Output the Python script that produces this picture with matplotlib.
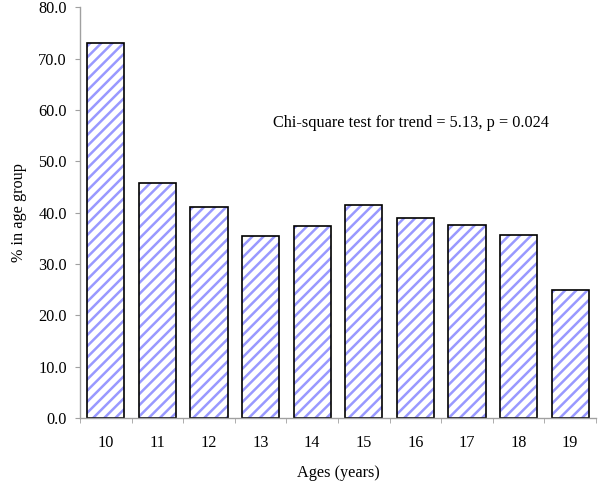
import matplotlib
matplotlib.use("Agg")
import matplotlib.pyplot as plt
import numpy as np

ages = ["10", "11", "12", "13", "14", "15", "16", "17", "18", "19"]
percent = [73.0, 45.7, 41.1, 35.5, 37.4, 41.4, 38.9, 37.5, 35.7, 25.0]
yticks = [0, 10, 20, 30, 40, 50, 60, 70, 80]
annotation = "Chi-square test for trend = 5.13, p = 0.024"

plt.rcParams['font.family'] = ['Liberation Serif', 'DejaVu Serif']
plt.rcParams['hatch.linewidth'] = 1.8

FS = 11.7

fig = plt.figure(figsize=(6.0, 4.87), dpi=100)
ax = fig.add_axes([80/600, 1 - 418/487, 516/600, (418 - 7.3)/487])

x = np.arange(len(ages))
ax.bar(x, percent, width=0.72, facecolor='white', edgecolor='#9999ff',
       hatch='///', linewidth=0)
ax.bar(x, percent, width=0.72, facecolor='none', edgecolor='black',
       linewidth=1.2)

ax.set_xlim(-0.5, len(ages) - 0.5)
ax.set_ylim(0, 80)
ax.set_yticks(yticks)
ax.set_yticklabels([f"{v:.1f}" for v in yticks])
ax.set_xticks(x)
ax.set_xticklabels(ages)
ax.set_xticks(np.arange(len(ages) + 1) - 0.5, minor=True)

for s in ['top', 'right']:
    ax.spines[s].set_visible(False)
for s in ['left', 'bottom']:
    ax.spines[s].set_color('#a0a0a0')
    ax.spines[s].set_linewidth(1.0)

ax.tick_params(axis='y', direction='out', length=3.5, color='#a0a0a0',
               labelsize=FS, pad=6)
ax.tick_params(axis='x', which='major', length=0, labelsize=FS, pad=12)
ax.tick_params(axis='x', which='minor', direction='out', length=3.5,
               color='#a0a0a0')

ax.set_ylabel("% in age group", fontsize=FS, labelpad=8)
ax.set_xlabel("Ages (years)", fontsize=FS, labelpad=10)

ax.text(273/600, 1 - 123/487, annotation, transform=fig.transFigure,
        fontsize=FS, ha='left', va='center')

fig.savefig("out.png", dpi=100)
